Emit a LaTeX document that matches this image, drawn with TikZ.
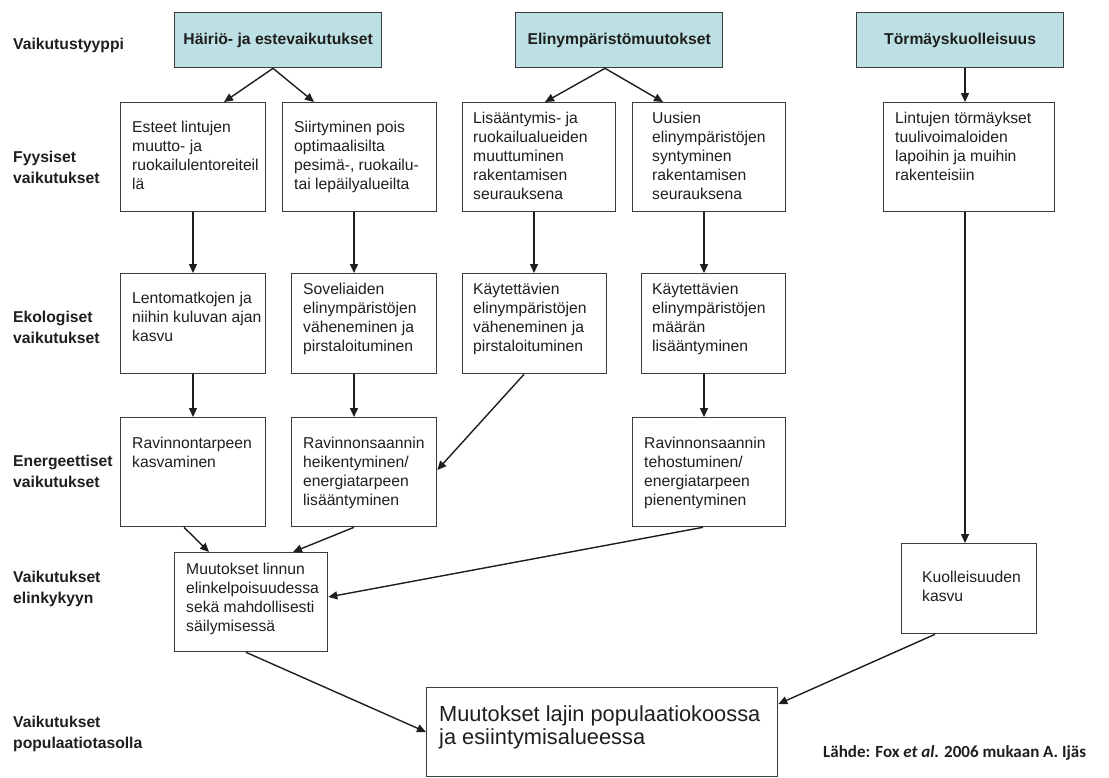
\documentclass[tikz,border=0pt]{standalone}
\usepackage{fontspec}
\setmainfont{Liberation Sans}
\newfontfamily\calibri{Carlito}
\usetikzlibrary{arrows.meta}
\definecolor{hdrfill}{RGB}{189,224,229}
\definecolor{ink}{RGB}{30,30,30}
\definecolor{edgec}{RGB}{60,60,60}
\begin{document}
\begin{tikzpicture}[x=1pt,y=-1pt,
  box/.style={draw=edgec, line width=1.3pt, anchor=north west, inner sep=0pt},
  hdr/.style={draw=edgec, line width=1.3pt, fill=hdrfill, anchor=north west, minimum width=207pt, minimum height=55pt, inner sep=0pt, font=\fontsize{15.7}{19}\selectfont\bfseries, text=ink},
  txt/.style={anchor=north west, inner sep=0pt, align=left, font=\fontsize{15.7}{19}\selectfont, text=ink},
  bigtxt/.style={anchor=north west, inner sep=0pt, align=left, font=\fontsize{21.8}{23}\selectfont, text=ink},
  lab/.style={anchor=north west, inner sep=0pt, align=left, font=\fontsize{15.7}{20.5}\selectfont\bfseries, text=ink},
  arr/.style={draw=ink, line width=1.4pt, -{Triangle[length=9pt,width=8pt]}}
]
\useasboundingbox (0,0) rectangle (1109,777);

% left labels
\node[lab] (l1) at (13,35) {\strut Vaikutustyyppi};
\node[lab] (l2) at (13,148) {\strut Fyysiset\\vaikutukset};
\node[lab] (l3) at (13,308) {\strut Ekologiset\\vaikutukset};
\node[lab] (l4) at (13,452) {\strut Energeettiset\\vaikutukset};
\node[lab] (l5) at (13,568) {\strut Vaikutukset\\elinkykyyn};
\node[lab] (l6) at (13,713) {\strut Vaikutukset\\populaatiotasolla};

% headers
\node[hdr] (h1) at (174,12) {Häiriö- ja estevaikutukset};
\node[hdr] (h2) at (515,12) {Elinympäristömuutokset};
\node[hdr] (h3) at (856,12) {Törmäyskuolleisuus};

% row 1
\node[box, minimum width=145pt, minimum height=109pt] (a1) at (120,102) {};
\node[box, minimum width=154pt, minimum height=109pt] (a2) at (282,102) {};
\node[box, minimum width=153pt, minimum height=109pt] (a3) at (462,102) {};
\node[box, minimum width=153pt, minimum height=109pt] (a4) at (632,102) {};
\node[box, minimum width=171pt, minimum height=109pt] (a5) at (883,102) {};
\node[txt] (a1t) at (132,119) {\strut Esteet lintujen\\muutto- ja\\ruokailulentoreiteil\\lä};
\node[txt] (a2t) at (294,119) {\strut Siirtyminen pois\\optimaalisilta\\pesimä-, ruokailu-\\tai lepäilyalueilta};
\node[txt] (a3t) at (473,110) {\strut Lisääntymis- ja\\ruokailualueiden\\muuttuminen\\rakentamisen\\seurauksena};
\node[txt] (a4t) at (652,110) {\strut Uusien\\elinympäristöjen\\syntyminen\\rakentamisen\\seurauksena};
\node[txt] (a5t) at (895,110) {\strut Lintujen törmäykset\\tuulivoimaloiden\\lapoihin ja muihin\\rakenteisiin};

% row 2
\node[box, minimum width=145pt, minimum height=100pt] (b1) at (120,273) {};
\node[box, minimum width=145pt, minimum height=100pt] (b2) at (291,273) {};
\node[box, minimum width=144pt, minimum height=100pt] (b3) at (462,273) {};
\node[box, minimum width=144pt, minimum height=100pt] (b4) at (641,273) {};
\node[txt] (b1t) at (132,290) {\strut Lentomatkojen ja\\niihin kuluvan ajan\\kasvu};
\node[txt] (b2t) at (303,281) {\strut Soveliaiden\\elinympäristöjen\\väheneminen ja\\pirstaloituminen};
\node[txt] (b3t) at (473,281) {\strut Käytettävien\\elinympäristöjen\\väheneminen ja\\pirstaloituminen};
\node[txt] (b4t) at (652,281) {\strut Käytettävien\\elinympäristöjen\\määrän\\lisääntyminen};

% row 3
\node[box, minimum width=145pt, minimum height=109pt] (c1) at (120,417) {};
\node[box, minimum width=145pt, minimum height=109pt] (c2) at (291,417) {};
\node[box, minimum width=153pt, minimum height=109pt] (c4) at (632,417) {};
\node[txt] (c1t) at (132,435) {\strut Ravinnontarpeen\\kasvaminen};
\node[txt] (c2t) at (303,435) {\strut Ravinnonsaannin\\heikentyminen/\\energiatarpeen\\lisääntyminen};
\node[txt] (c4t) at (644,435) {\strut Ravinnonsaannin\\tehostuminen/\\energiatarpeen\\pienentyminen};

% row 4
\node[box, minimum width=153pt, minimum height=99pt] (d) at (174,552) {};
\node[txt] (dt) at (186,561) {\strut Muutokset linnun\\elinkelpoisuudessa\\sekä mahdollisesti\\säilymisessä};
\node[box, minimum width=135pt, minimum height=90pt] (e) at (901,543) {};
\node[txt] (et) at (922,569) {\strut Kuolleisuuden\\kasvu};

% bottom
\node[box, minimum width=351pt, minimum height=89pt] (f) at (426,687) {};
\node[bigtxt] (ft) at (439,705) {\strut Muutokset lajin populaatiokoossa\\ja esiintymisalueessa};

\node[anchor=west, inner sep=0pt, text=ink, font=\calibri\bfseries\fontsize{17}{20}\selectfont] (src) at (823,753) {Lähde: Fox \textit{et al.} 2006 mukaan A. Ijäs};

% connectors
\draw[arr] (h1.south -| 273,0) -- (a1.north -| 224,0);
\draw[arr] (h1.south -| 273,0) -- (a2.north -| 314,0);
\draw[arr] (h2.south -| 605,0) -- (a3.north -| 545,0);
\draw[arr] (h2.south -| 605,0) -- (a4.north -| 663,0);
\draw[arr] (h3.south -| 965,0) -- (a5.north -| 965,0);

\draw[arr] (a1.south -| 193,0) -- (b1.north -| 193,0);
\draw[arr] (a2.south -| 354,0) -- (b2.north -| 354,0);
\draw[arr] (a3.south -| 534,0) -- (b3.north -| 534,0);
\draw[arr] (a4.south -| 704,0) -- (b4.north -| 704,0);

\draw[arr] (b1.south -| 193,0) -- (c1.north -| 193,0);
\draw[arr] (b2.south -| 354,0) -- (c2.north -| 354,0);
\draw[arr] (b3.south -| 524,0) -- (c2.east |- 0,470);
\draw[arr] (b4.south -| 704,0) -- (c4.north -| 704,0);

\draw[arr] (c1.south -| 184,0) -- (d.north -| 209,0);
\draw[arr] (c2.south -| 354,0) -- (d.north -| 293,0);
\draw[arr] (c4.south -| 703,0) -- (d.east |- 0,597);

\draw[arr] (a5.south -| 965,0) -- (e.north -| 965,0);

\draw[arr] (d.south -| 246,0) -- (f.west |- 0,732);
\draw[arr] (e.south -| 935,0) -- (f.east |- 0,704);
\end{tikzpicture}
\end{document}
